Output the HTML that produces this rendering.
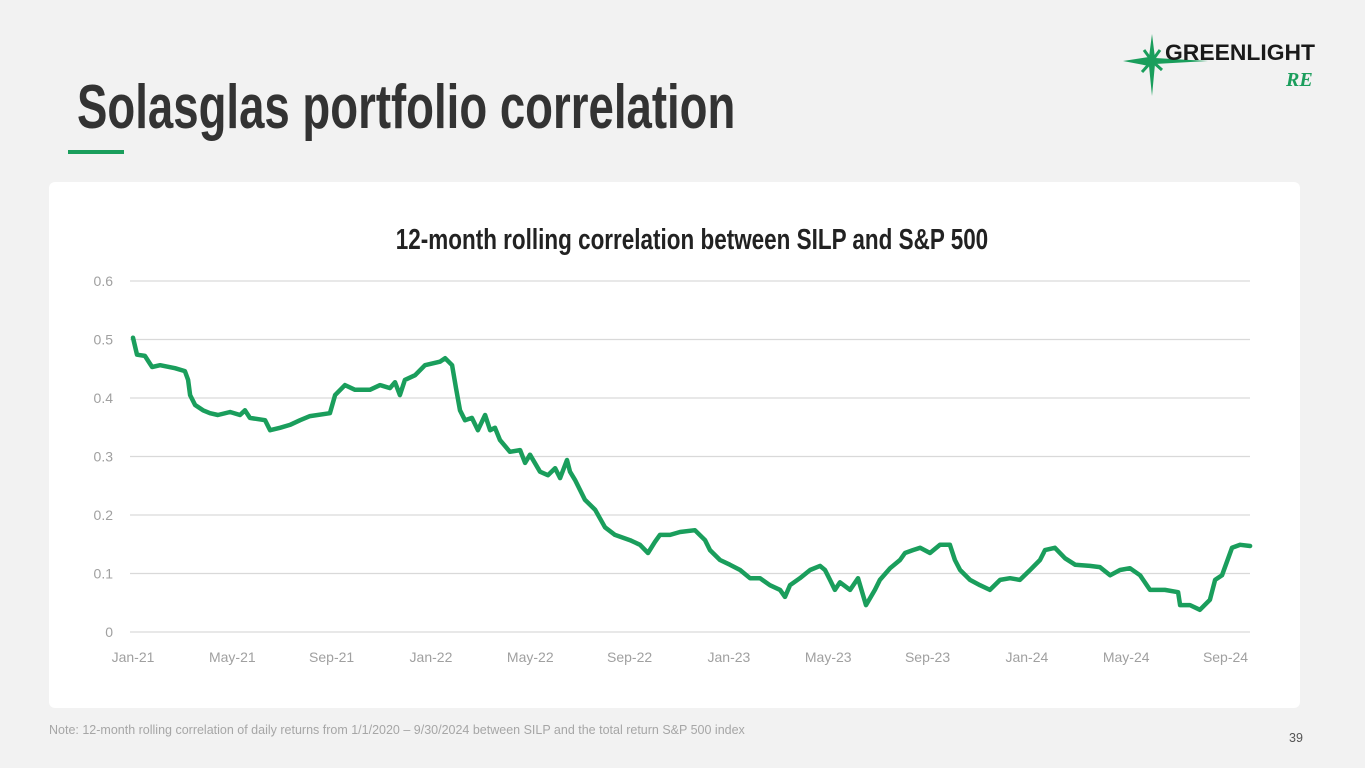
<!DOCTYPE html>
<html><head><meta charset="utf-8"><style>
body{margin:0;width:1365px;height:768px;background:#f2f2f2;font-family:"Liberation Sans",sans-serif;position:relative;overflow:hidden}
.t{position:absolute;white-space:nowrap}
</style></head><body>
<div class="t" style="left:77px;top:72px;font-family:'Liberation Sans',sans-serif;font-weight:bold;font-size:62px;color:#333;transform-origin:left top;transform:scaleX(0.735)">Solasglas portfolio correlation</div>
<div style="position:absolute;left:68px;top:150px;width:56px;height:4px;background:#1a9e5c"></div>
<svg style="position:absolute;left:1118px;top:30px" width="205" height="70" viewBox="0 0 205 70">
<polygon points="34,4 37,28 90,31 37,34 34,66 31,36 5,31 31,27" fill="#1a9e5c"/>
<polygon points="26,20 34,31 42,20 34,31 44,40 34,31 24,42 34,31" stroke="#1a9e5c" stroke-width="3" fill="none"/>
<text x="47" y="30" font-family="Liberation Sans" font-weight="bold" font-size="22" fill="#1a1a1a" textLength="150" lengthAdjust="spacingAndGlyphs">GREENLIGHT</text>
<text x="168" y="56" font-family="Liberation Serif" font-style="italic" font-weight="bold" font-size="20" fill="#1a9e5c">RE</text>
</svg>
<div style="position:absolute;left:49px;top:182px;width:1251px;height:526px;background:#fff;border-radius:6px"></div>
<div class="t" style="left:292px;top:224px;width:800px;text-align:center;font-family:'Liberation Sans',sans-serif;font-weight:bold;font-size:29px;color:#222;transform-origin:center top;transform:scaleX(0.775)">12-month rolling correlation between SILP and S&amp;P 500</div>
<svg id="chart" style="position:absolute;left:0;top:0" width="1365" height="768"></svg>
<div class="t" style="left:49px;top:723px;font-size:12.5px;color:#a6a6a6">Note: 12-month rolling correlation of daily returns from 1/1/2020 – 9/30/2024 between SILP and the total return S&amp;P 500 index</div>
<div class="t" style="left:1289px;top:731px;font-size:12.5px;color:#555">39</div>
<script>
const yTicks=[0,0.1,0.2,0.3,0.4,0.5,0.6];
const xTickLabels=["Jan-21","May-21","Sep-21","Jan-22","May-22","Sep-22","Jan-23","May-23","Sep-23","Jan-24","May-24","Sep-24"];
const xTickMonths=[0,4,8,12,16,20,24,28,32,36,40,44];
const months=[0,0.16,0.48,0.77,1.09,1.69,2.09,2.22,2.30,2.50,2.82,3.10,3.42,3.91,4.31,4.51,4.71,5.32,5.52,5.92,6.32,6.73,7.13,7.93,8.14,8.54,8.94,9.54,9.95,10.35,10.55,10.75,10.95,11.36,11.76,12.36,12.57,12.85,13.01,13.17,13.37,13.65,13.89,14.18,14.38,14.58,14.78,15.18,15.59,15.79,15.99,16.39,16.71,17.00,17.20,17.48,17.60,17.80,18.20,18.61,19.01,19.41,20.02,20.42,20.74,21.02,21.22,21.63,22.03,22.63,23.04,23.24,23.64,24.04,24.45,24.85,25.25,25.65,26.06,26.26,26.46,26.86,27.27,27.67,27.87,28.07,28.27,28.47,28.88,29.20,29.52,29.88,30.08,30.49,30.89,31.09,31.41,31.70,32.10,32.50,32.90,33.10,33.31,33.71,34.11,34.51,34.92,35.32,35.72,36.13,36.53,36.73,37.13,37.54,37.94,38.54,38.94,39.35,39.75,40.15,40.56,40.96,41.56,42.09,42.17,42.57,42.97,43.37,43.58,43.86,44.26,44.59,44.99];
const correlation=[0.503,0.474,0.472,0.453,0.456,0.451,0.446,0.431,0.405,0.388,0.379,0.374,0.371,0.376,0.371,0.379,0.366,0.362,0.345,0.349,0.354,0.362,0.369,0.374,0.405,0.422,0.414,0.414,0.422,0.417,0.427,0.405,0.431,0.439,0.456,0.462,0.468,0.456,0.417,0.379,0.362,0.366,0.345,0.371,0.345,0.349,0.328,0.308,0.311,0.289,0.303,0.274,0.268,0.280,0.263,0.294,0.274,0.260,0.226,0.209,0.179,0.166,0.157,0.149,0.135,0.154,0.166,0.166,0.171,0.174,0.157,0.140,0.123,0.115,0.106,0.092,0.092,0.080,0.072,0.060,0.080,0.092,0.106,0.113,0.106,0.089,0.072,0.085,0.072,0.092,0.046,0.072,0.089,0.109,0.123,0.135,0.140,0.144,0.135,0.149,0.149,0.123,0.106,0.089,0.080,0.072,0.089,0.092,0.089,0.106,0.123,0.140,0.144,0.126,0.115,0.113,0.111,0.097,0.106,0.109,0.097,0.072,0.072,0.068,0.046,0.046,0.038,0.055,0.089,0.097,0.144,0.149,0.147];
const svg=document.getElementById('chart');const NS='http://www.w3.org/2000/svg';
const X=m=>133+m*24.83, Y=v=>632-v*585;
function mk(t,a){const e=document.createElementNS(NS,t);for(const k in a)e.setAttribute(k,a[k]);svg.appendChild(e);return e;}
yTicks.forEach(v=>{
 const l=mk('line',{x1:130,x2:1250,y1:Y(v),y2:Y(v),stroke:'#d9d9d9','stroke-width':1.3});
 
 
 const t=mk('text',{x:113,y:Y(v)+5,'text-anchor':'end','font-size':14,fill:'#a0a0a0','font-family':'Liberation Sans'});t.textContent=String(v);
 
 
});
xTickLabels.forEach((s,i)=>{
 const t=mk('text',{x:X(xTickMonths[i]),y:662,'text-anchor':'middle','font-size':14,fill:'#a0a0a0','font-family':'Liberation Sans'});t.textContent=s;
 
 
});
const p=mk('polyline',{points:months.map((m,i)=>X(m).toFixed(1)+','+Y(correlation[i]).toFixed(1)).join(' '),fill:'none',stroke:'#1a9e5c','stroke-width':4.5,'stroke-linejoin':'round','stroke-linecap':'round'});


</script>
</body></html>
